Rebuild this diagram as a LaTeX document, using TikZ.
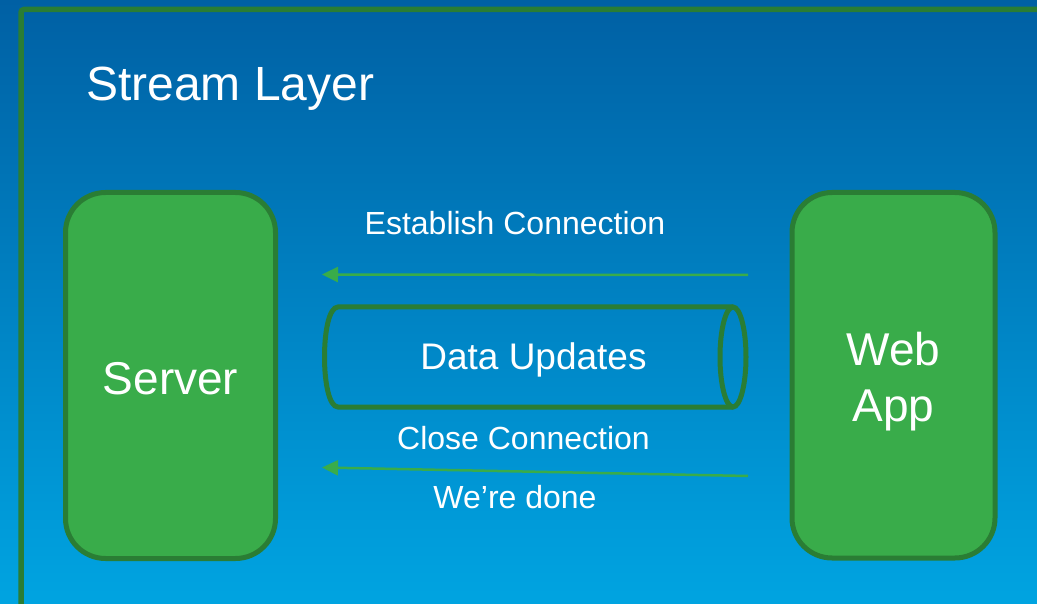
\documentclass[tikz,border=0pt]{standalone}
\usepackage{fontspec}
\setmainfont{Liberation Sans}
\usetikzlibrary{arrows.meta}
\definecolor{bgtop}{RGB}{0,96,164}
\definecolor{bgbot}{RGB}{0,164,225}
\definecolor{edgegreen}{RGB}{42,125,52}
\definecolor{fillgreen}{RGB}{57,172,74}
\tikzset{
  block/.style={draw=edgegreen, fill=fillgreen, line width=5pt, rounded corners=40pt},
  pipe/.style={draw=edgegreen, line width=5pt},
  msg/.style={draw=fillgreen, line width=2.5pt, -{Triangle[length=16pt,width=15pt]}},
  label/.style={text=white, inner sep=0pt, anchor=base},
}
\begin{document}
\begin{tikzpicture}[x=1pt, y=-1pt]
  % page and background gradient
  \useasboundingbox (0,0) rectangle (1037,604);
  \shade[top color=bgtop, bottom color=bgbot] (0,0) rectangle (1037,604);

  % layer frame
  \draw[edgegreen, line width=5.5pt, rounded corners=3pt] (21,640) -- (21,9.5) -- (1080,9.5);
  \node[label, anchor=base west, font=\fontsize{48}{56}\selectfont] (title) at (86,101) {Stream Layer};

  % endpoints
  \draw[block] (65.5,192.5) rectangle (275.5,558.5);
  \node[label, font=\fontsize{46}{54}\selectfont] (server) at (170.5,394) {Server};
  \draw[block] (792,192.5) rectangle (995,558);
  \node[label, font=\fontsize{46}{54}\selectfont] (web) at (893.5,366) {Web};
  \node[label, font=\fontsize{46}{54}\selectfont] (app) at (893.5,421) {App};

  % data pipe
  \draw[pipe] (733,307) -- (338,307) .. controls (320,307) and (320,407) .. (338,407) -- (733,407);
  \draw[pipe] (733,357) ellipse [x radius=13pt, y radius=50pt];
  \node[label, font=\fontsize{37}{44}\selectfont] (data) at (533.5,369) {Data Updates};

  % messages
  \coordinate (e1) at (748,275);
  \coordinate (s1) at (322,274.5);
  \coordinate (e2) at (748,476);
  \coordinate (s2) at (322,467.5);
  \draw[msg] (e1) -- (s1);
  \draw[msg] (e2) -- (s2);
  \node[label, font=\fontsize{32}{38}\selectfont] (est) at (515,235) {Establish Connection};
  \node[label, font=\fontsize{32}{38}\selectfont] (close) at (523.5,449) {Close Connection};
  \node[label, font=\fontsize{32}{38}\selectfont] (done) at (515,508) {We’re done};
\end{tikzpicture}
\end{document}
